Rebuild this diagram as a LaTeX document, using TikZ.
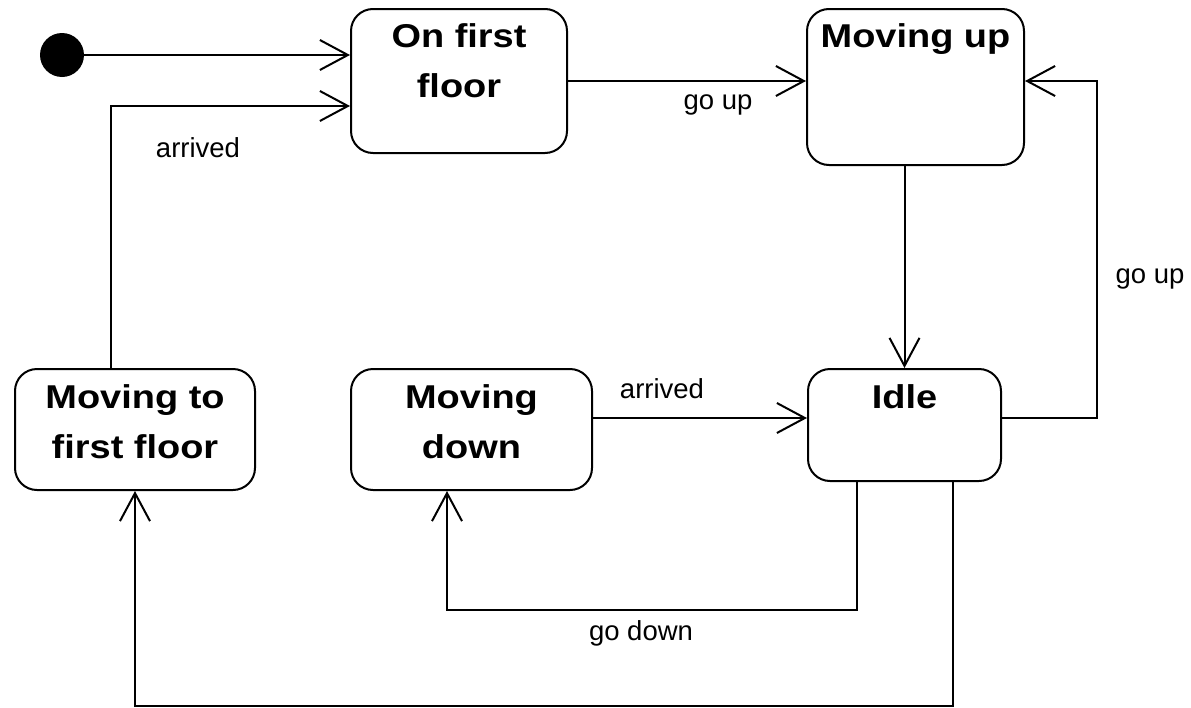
\documentclass[tikz,border=0pt]{standalone}
\usepackage{fontspec}
\setmainfont{Liberation Sans}
\newfontfamily\statefont[FakeStretch=1.15]{Liberation Sans}
\usetikzlibrary{arrows.meta}

\begin{document}
\begin{tikzpicture}[x=1pt,y=-1pt,
		state/.style={draw, line width=2pt, rounded corners=22pt, inner sep=0pt},
		statename/.style={anchor=north, align=center, inner sep=0pt, font=\statefont\bfseries\fontsize{33}{50}\selectfont},
		trans/.style={line width=2pt, -{Straight Barb[length=28pt,width=30pt,line width=2pt]}},
		lbl/.style={anchor=base, inner sep=0pt, font=\fontsize{27.5}{33}\selectfont}]
		\useasboundingbox (0,0) rectangle (1191,707);
		% states
		\node[circle, fill, minimum size=44pt, inner sep=0pt] (init) at (62,55) {};
		\node[state, minimum width=216pt, minimum height=144pt] (onfirst) at (459,81) {};
		\node[state, minimum width=217pt, minimum height=156pt] (movingup) at (915.5,87) {};
		\node[state, minimum width=240pt, minimum height=121pt] (tofirst) at (135,429.5) {};
		\node[state, minimum width=241pt, minimum height=121pt] (movingdown) at (471.5,429.5) {};
		\node[state, minimum width=193pt, minimum height=112pt] (idle) at (904.5,425) {};
		\node[statename] (onfirstname) at ([yshift=-15pt]onfirst.north) {On first\\floor};
		\node[statename] (movingupname) at ([yshift=-15pt]movingup.north) {Moving up};
		\node[statename] (tofirstname) at ([yshift=-16pt]tofirst.north) {Moving to\\first floor};
		\node[statename] (movingdownname) at ([yshift=-16pt]movingdown.north) {Moving\\down};
		\node[statename] (idlename) at ([yshift=-16pt]idle.north) {Idle};
		% turning points
		\coordinate (arr1) at (111,106);
		\coordinate (up1) at (0,81);
		\coordinate (arr2) at (0,418);
		\coordinate (up2) at (1097,81);
		\coordinate (down1) at (857,610);
		\coordinate (down2) at (447,610);
		\coordinate (back1) at (953,706);
		% transitions
		\draw[trans] (init) -- (init -| onfirst.west);
		\draw[trans] (tofirst.north -| arr1) |- (onfirst.west |- arr1);
		\draw[trans] (onfirst.east |- up1) -- (movingup.west |- up1);
		\draw[trans] (movingup.south -| idle.north) -- (idle.north);
		\draw[trans] (movingdown.east |- arr2) -- (idle.west |- arr2);
		\draw[trans] (idle.east |- arr2) -| (up2) -- (movingup.east |- up2);
		\draw[trans] (idle.south -| down1) -- (down1) -- (down2) -- (movingdown.south -| down2);
		\draw[trans] (idle.south -| back1) |- (tofirst.south |- back1) -- (tofirst.south);
		% labels
		\node[lbl] (arrivedfirst) at (198,157) {arrived};
		\node[lbl] (goupleft) at (718,109) {go up};
		\node[lbl] (goupright) at (1150,283) {go up};
		\node[lbl] (arrivedidle) at (662,398) {arrived};
		\node[lbl] (godown) at (641,640) {go down};
	\end{tikzpicture}
\end{document}
